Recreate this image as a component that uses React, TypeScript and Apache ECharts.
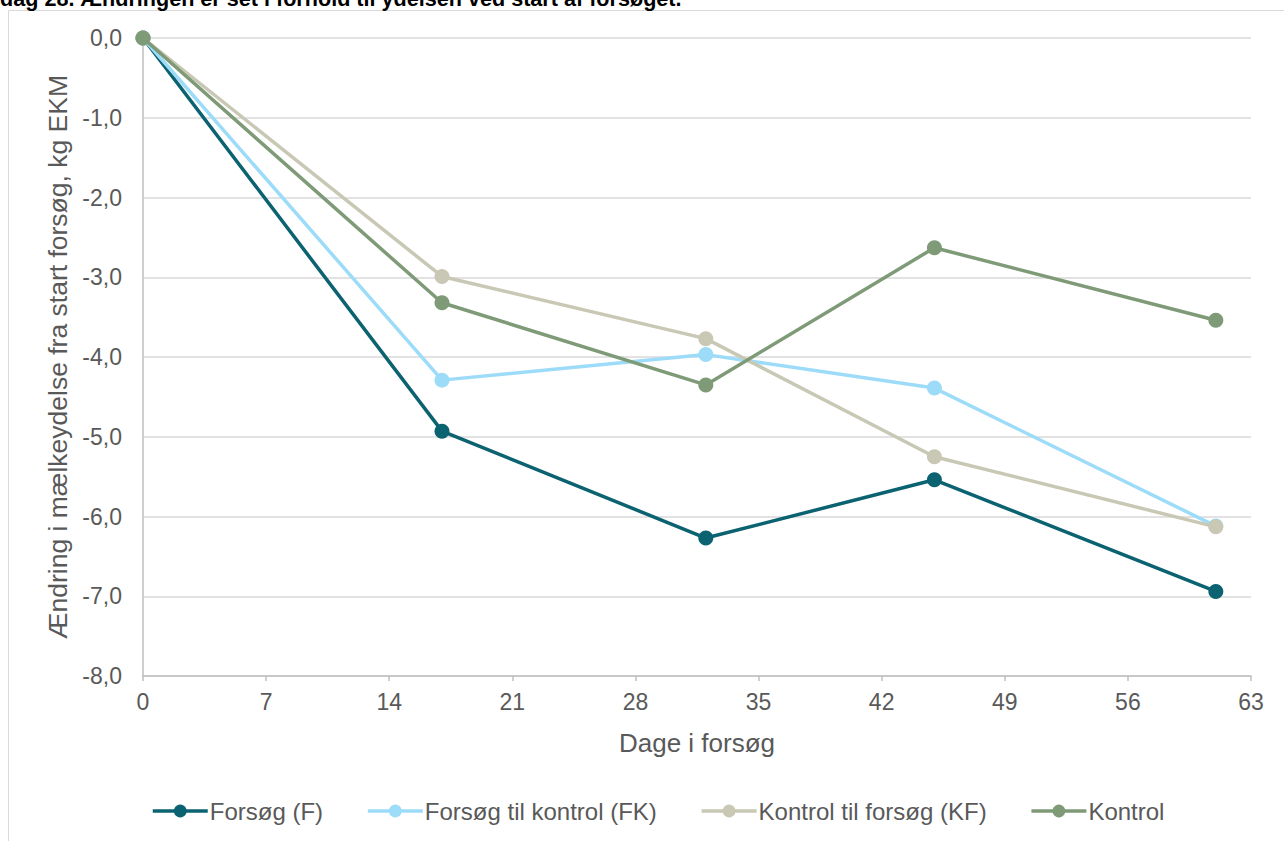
import React, { useEffect, useRef } from "react";
import * as echarts from "echarts";

const days = [0, 17, 32, 45, 61];
const seriesNames = ["Forsøg (F)", "Forsøg til kontrol (FK)", "Kontrol til forsøg (KF)", "Kontrol"];
const forsoeg = [0, -4.93, -6.27, -5.54, -6.94];
const forsoegTilKontrol = [0, -4.29, -3.97, -4.39, -6.12];
const kontrolTilForsoeg = [0, -2.99, -3.77, -5.25, -6.13];
const kontrol = [0, -3.32, -4.35, -2.63, -3.54];
const colors = ["#0b6270", "#9ddcf9", "#c8c8b4", "#7e9a77"];
const titleText = "dag 28. Ændringen er set i forhold til ydelsen ved start af forsøget.";
const xAxisName = "Dage i forsøg";
const yAxisName = "Ændring i mælkeydelse fra start forsøg, kg EKM";

export default function App() {
  const ref = useRef<HTMLDivElement>(null);
  useEffect(() => {
    document.body.style.margin = "0";
    const chart = echarts.init(ref.current!, null, { renderer: "svg" });
    const allData = [forsoeg, forsoegTilKontrol, kontrolTilForsoeg, kontrol];
    const font = "'Liberation Sans', Arial, sans-serif";
    chart.setOption({
      animation: false,
      backgroundColor: "#ffffff",
      textStyle: { fontFamily: font },
      graphic: [
        {
          type: "rect",
          shape: { x: 8.5, y: 10.5, width: 1290, height: 850 },
          style: { fill: "none", stroke: "#d9d9d9", lineWidth: 1 },
        },
        {
          type: "text",
          x: 0,
          y: 9,
          style: {
            text: titleText,
            font: `bold 21.6px ${font}`,
            fill: "#000000",
            verticalAlign: "bottom",
          },
        },
      ],
      grid: { left: 143, right: 33, top: 38, bottom: 165 },
      xAxis: {
        type: "value",
        min: 0,
        max: 63,
        interval: 7,
        name: xAxisName,
        nameLocation: "middle",
        nameGap: 54,
        nameTextStyle: { fontSize: 26, color: "#595959", fontFamily: font },
        axisLine: { show: true, onZero: false, lineStyle: { color: "#bfbfbf", width: 1.5 } },
        axisTick: { show: true, length: 5, lineStyle: { color: "#bfbfbf", width: 1.5 } },
        axisLabel: { fontSize: 23, color: "#595959", margin: 14, fontFamily: font },
        splitLine: { show: false },
      },
      yAxis: {
        type: "value",
        min: -8,
        max: 0,
        interval: 1,
        name: yAxisName,
        nameLocation: "middle",
        nameGap: 68,
        nameTextStyle: { fontSize: 26.5, color: "#595959", fontFamily: font },
        axisLine: { show: true, lineStyle: { color: "#bfbfbf", width: 1.5 } },
        axisTick: { show: false },
        axisLabel: {
          fontSize: 23,
          color: "#595959",
          margin: 21,
          fontFamily: font,
          formatter: (v: number) => v.toFixed(1).replace(".", ","),
        },
        splitLine: { show: true, lineStyle: { color: "#d9d9d9", width: 1.5 } },
      },
      legend: {
        top: 799,
        left: 151,
        padding: 0,
        itemWidth: 55,
        itemHeight: 16,
        itemGap: 43,
        lineStyle: { width: 3.5 },
        textStyle: { fontSize: 24, color: "#595959", fontFamily: font, padding: [0, 0, 0, -3] },
        data: seriesNames,
      },
      series: seriesNames.map((name, i) => ({
        name,
        type: "line",
        data: days.map((d, j) => [d, allData[i][j]]),
        symbol: "circle",
        symbolSize: 15,
        lineStyle: { width: 3.5, color: colors[i] },
        itemStyle: { color: colors[i] },
        z: 2 + i,
      })),
    });
    return () => chart.dispose();
  }, []);
  return <div ref={ref} style={{ width: 1284, height: 841 }} />;
}
